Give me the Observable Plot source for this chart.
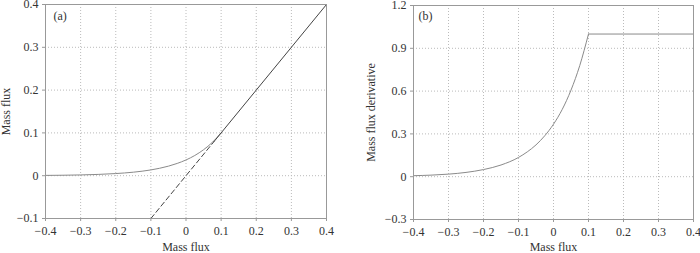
<!DOCTYPE html>
<html>
<head>
<meta charset="utf-8">
<script src="https://cdn.jsdelivr.net/npm/d3@7"></script>
<script src="https://cdn.jsdelivr.net/npm/@observablehq/plot@0.6"></script>
<style>
  html, body { margin: 0; padding: 0; background: #fff; }
  #wrap { display: flex; flex-direction: row; width: 700px; height: 253px; }
</style>
</head>
<body>
<div id="wrap"></div>
<script>
// Smooth part of the mass-flux curve
const curveX = [-0.4, -0.35, -0.3, -0.25, -0.2, -0.15, -0.1, -0.075, -0.05, -0.025, 0, 0.025, 0.05, 0.075, 0.1];
const fluxY  = [0.0007, 0.0011, 0.0018, 0.0030, 0.0050, 0.0082, 0.0135, 0.0174, 0.0223, 0.0287, 0.0368, 0.0472, 0.0607, 0.0779, 0.1];
// Derivative panel
const derivX = [-0.4, -0.35, -0.3, -0.25, -0.2, -0.15, -0.1, -0.075, -0.05, -0.025, 0, 0.025, 0.05, 0.075, 0.1];
const derivY = [0.007, 0.011, 0.018, 0.030, 0.050, 0.082, 0.135, 0.174, 0.223, 0.287, 0.368, 0.472, 0.607, 0.779, 1.0];
const flatX = [0.1, 0.4];
const flatY = [1.0, 1.0];
// Asymptote y = x: dashed part and solid part
const dashX = [-0.1, 0.08];
const solidX = [0.08, 0.4];
// Ticks
const xTicks = [-0.4, -0.3, -0.2, -0.1, 0, 0.1, 0.2, 0.3, 0.4];
const yTicksA = [-0.1, 0, 0.1, 0.2, 0.3, 0.4];
const yTicksB = [-0.3, 0, 0.3, 0.6, 0.9, 1.2];

const fmt = d => (Math.abs(d) < 1e-9 ? "0" : d3.format(".1f")(d));
const font = "'Liberation Serif', 'Times New Roman', serif";
const textColor = "#333";
const fs = 12;
const gridStyle = {stroke: "#bbb", strokeOpacity: 1, strokeDasharray: "1,2"};

function panel({yDomain, yTicks, margins, yLabel, yLabelDx, xLabelDy, tag, tagDx, tagDy, marks}) {
  return Plot.plot({
    width: 350,
    height: 253,
    ...margins,
    style: {fontFamily: font, fontSize: fs + "px", color: textColor, background: "#fff"},
    x: {domain: [-0.4, 0.4]},
    y: {domain: yDomain},
    marks: [
      Plot.gridX(xTicks, gridStyle),
      Plot.gridY(yTicks, gridStyle),
      ...marks,
      Plot.frame({stroke: "#999", strokeWidth: 1}),
      Plot.axisX(xTicks, {tickFormat: fmt, tickSize: 3, tickPadding: 5, stroke: "#999", fill: textColor, fontSize: fs, label: null}),
      Plot.axisY(yTicks, {tickFormat: fmt, tickSize: 3, tickPadding: 4, stroke: "#999", fill: textColor, fontSize: fs, label: null}),
      Plot.text([yLabel], {frameAnchor: "left", dx: yLabelDx, rotate: -90, textAnchor: "middle", lineAnchor: "middle", fill: textColor, fontSize: fs}),
      Plot.text(["Mass flux"], {frameAnchor: "bottom", dy: xLabelDy, textAnchor: "middle", lineAnchor: "middle", fill: textColor, fontSize: fs}),
      Plot.text([tag], {frameAnchor: "top-left", dx: tagDx, dy: tagDy, textAnchor: "start", lineAnchor: "middle", fill: textColor, fontSize: fs})
    ]
  });
}

const left = panel({
  yDomain: [-0.1, 0.4],
  yTicks: yTicksA,
  margins: {marginLeft: 45, marginRight: 24, marginTop: 4, marginBottom: 35},
  yLabel: "Mass flux",
  yLabelDx: -39,
  xLabelDy: 29,
  tag: "(a)",
  tagDx: 8,
  tagDy: 12,
  marks: [
    Plot.line(curveX, {x: d => d, y: (d, i) => fluxY[i], stroke: "#8a8a8a", strokeWidth: 1, curve: "monotone-x"}),
    Plot.line(dashX, {x: d => d, y: d => d, stroke: "#444", strokeWidth: 1, strokeDasharray: "5,3"}),
    Plot.line(solidX, {x: d => d, y: d => d, stroke: "#444", strokeWidth: 1})
  ]
});

const right = panel({
  yDomain: [-0.3, 1.2],
  yTicks: yTicksB,
  margins: {marginLeft: 63, marginRight: 7, marginTop: 5, marginBottom: 34},
  yLabel: "Mass flux derivative",
  yLabelDx: -42,
  xLabelDy: 28,
  tag: "(b)",
  tagDx: 5,
  tagDy: 11,
  marks: [
    Plot.line(derivX, {x: d => d, y: (d, i) => derivY[i], stroke: "#8a8a8a", strokeWidth: 1, curve: "monotone-x"}),
    Plot.line(flatX, {x: d => d, y: (d, i) => flatY[i], stroke: "#8a8a8a", strokeWidth: 1})
  ]
});

const wrap = document.getElementById("wrap");
wrap.appendChild(left);
wrap.appendChild(right);
</script>
</body>
</html>
